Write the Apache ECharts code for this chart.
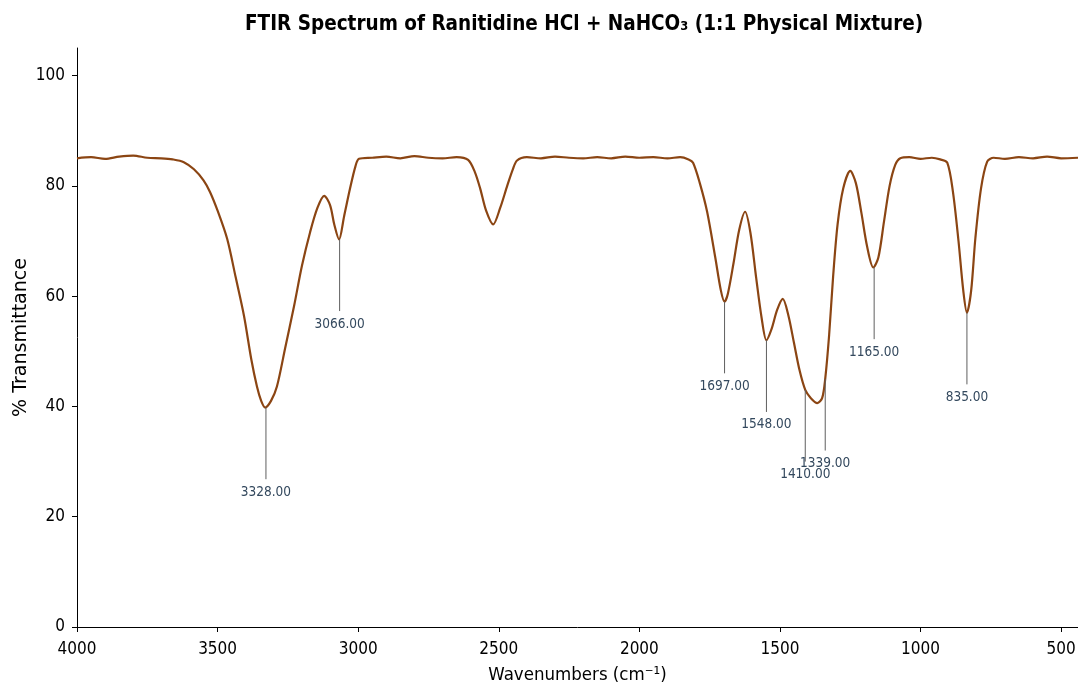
<!DOCTYPE html>
<html>
<head>
<meta charset="utf-8">
<script src="https://cdn.jsdelivr.net/npm/echarts@6/dist/echarts.min.js"></script>
<style>
  html, body { margin: 0; padding: 0; background: #fff; overflow: hidden; }
  #chart { width: 1078px; height: 685px; }
</style>
</head>
<body>
<div id="chart"></div>
<script>
// spectrum (wavenumber cm-1, % transmittance)
var wavenumbers = [4000, 3950, 3900, 3850, 3800, 3750, 3700, 3660, 3620, 3584, 3550, 3527, 3500, 3466, 3436, 3406, 3380, 3360, 3345, 3331,
  3310, 3289, 3260, 3228, 3200, 3171, 3145, 3121, 3100, 3085, 3068, 3050, 3029, 3010, 2997, 2950, 2900, 2850, 2800, 2750,
  2700, 2650, 2609, 2585, 2566, 2545, 2520, 2495, 2470, 2450, 2435, 2400, 2350, 2300, 2250, 2200, 2150, 2100, 2050, 2000,
  1950, 1900, 1855, 1825, 1809, 1785, 1759, 1730, 1710, 1697, 1685, 1665, 1645, 1624, 1605, 1585, 1565, 1548, 1530, 1510,
  1490, 1470, 1450, 1430, 1410, 1390, 1367, 1350, 1339, 1325, 1311, 1295, 1275, 1250, 1230, 1210, 1190, 1168, 1150, 1130,
  1110, 1090, 1072, 1040, 1000, 960, 930, 905, 885, 865, 848, 835, 820, 805, 785, 763, 740, 700, 650, 600,
  550, 500, 440];
var transmittance = [85.0, 85.2, 84.9, 85.3, 85.5, 85.1, 85.0, 84.8, 84.3, 83.0, 81.0, 78.9, 75.5, 70.4, 63.5, 56.4, 48.5, 43.6, 41.0, 39.8,
  41.0, 43.6, 50.5, 58.2, 65.5, 71.6, 76.0, 78.2, 76.5, 73.0, 70.3, 74.5, 79.5, 83.5, 84.9, 85.1, 85.3, 85.0, 85.4, 85.1,
  85.0, 85.2, 84.7, 82.5, 79.5, 75.5, 73.0, 76.0, 80.0, 83.0, 84.6, 85.2, 85.0, 85.3, 85.1, 85.0, 85.2, 85.0, 85.3, 85.1,
  85.2, 85.0, 85.2, 84.8, 84.2, 80.5, 75.3, 67.0, 61.0, 59.0, 60.5, 66.0, 72.0, 75.3, 71.5, 63.5, 56.0, 52.0, 54.0, 57.5,
  59.5, 56.5, 51.5, 46.5, 43.0, 41.5, 40.6, 41.5, 45.0, 53.0, 63.5, 73.0, 79.5, 82.7, 80.5, 75.0, 69.0, 65.2, 67.0, 73.5,
  80.0, 83.8, 85.0, 85.2, 84.9, 85.1, 84.8, 84.2, 79.0, 70.0, 61.0, 57.0, 61.0, 70.5, 79.5, 84.4, 85.1, 84.9, 85.2, 85.0,
  85.3, 85.0, 85.1];

// labelled peaks
var peakWn = [3328, 3066, 1697, 1548, 1410, 1339, 1165, 835];
var peakT = [39.8, 70.3, 59.0, 52.0, 43.0, 45.0, 65.2, 57.0];
var peakLabels = ['3328.00', '3066.00', '1697.00', '1548.00', '1410.00', '1339.00', '1165.00', '835.00'];

var xTicks = [4000, 3500, 3000, 2500, 2000, 1500, 1000, 500];
var yTicks = [0, 20, 40, 60, 80, 100];

var spectrum = wavenumbers.map(function (w, i) { return [w, transmittance[i]]; });
var peaks = peakWn.map(function (w, i) { return [w, peakT[i]]; });

var chart = echarts.init(document.getElementById('chart'));
var font = 'DejaVu Sans';
var condensed = '"DejaVu Sans Condensed", "DejaVu Sans"';

var option = {
  animation: false,
  backgroundColor: '#fff',
  title: {
    text: 'FTIR Spectrum of Ranitidine HCl + NaHCO\u2083 (1:1 Physical Mixture)',
    left: 240,
    top: 9,
    textStyle: { fontFamily: condensed, fontWeight: 'bold', fontSize: 20.5, color: '#000' }
  },
  grid: { left: 77, right: 0, top: 48, bottom: 58, outerBoundsMode: 'none' },
  xAxis: {
    type: 'value',
    min: 440,
    max: 4000,
    inverse: true,
    name: 'Wavenumbers (cm\u207B\u00B9)',
    nameLocation: 'middle',
    nameGap: 39,
    nameMoveOverlap: false,
    nameTextStyle: { fontFamily: condensed, fontSize: 18.5, color: '#000' },
    axisLine: { lineStyle: { color: '#000', width: 1 } },
    axisTick: { customValues: xTicks, length: 5, lineStyle: { color: '#000' } },
    axisLabel: {
      customValues: xTicks, fontFamily: condensed, fontSize: 17, color: '#000', margin: 14,
      formatter: function (v) { return String(v); }
    },
    splitLine: { show: false }
  },
  yAxis: {
    type: 'value',
    min: 0,
    max: 105,
    name: '% Transmittance',
    nameLocation: 'middle',
    nameGap: 46,
    nameMoveOverlap: false,
    nameTextStyle: { fontFamily: font, fontSize: 19, color: '#000' },
    axisLine: { show: true, lineStyle: { color: '#000', width: 1 } },
    axisTick: { show: true, customValues: yTicks, length: 5, lineStyle: { color: '#000' } },
    axisLabel: {
      customValues: yTicks, fontFamily: condensed, fontSize: 17, color: '#000', margin: 12,
      formatter: function (v) { return String(v); }
    },
    splitLine: { show: false }
  },
  series: [
    {
      type: 'line',
      data: spectrum,
      showSymbol: false,
      smooth: 0.3,
      lineStyle: { color: '#8B4513', width: 2.2 },
      z: 3
    },
    {
      type: 'custom',
      data: peaks,
      encode: { x: 0, y: 1 },
      z: 4,
      renderItem: function (params, api) {
        var top = api.coord([api.value(0), api.value(1)]);
        var bot = api.coord([api.value(0), api.value(1) - 13]);
        return {
          type: 'group',
          children: [
            {
              type: 'line',
              shape: { x1: top[0], y1: top[1], x2: bot[0], y2: bot[1] },
              style: { stroke: '#5f5f5f', lineWidth: 1 }
            },
            {
              type: 'text',
              x: bot[0],
              y: bot[1] + 6,
              style: {
                text: peakLabels[params.dataIndex],
                fill: '#34495e',
                font: '13.5px "DejaVu Sans Condensed", "DejaVu Sans"',
                align: 'center',
                verticalAlign: 'top'
              }
            }
          ]
        };
      }
    }
  ]
};
chart.setOption(option);
</script>
</body>
</html>
